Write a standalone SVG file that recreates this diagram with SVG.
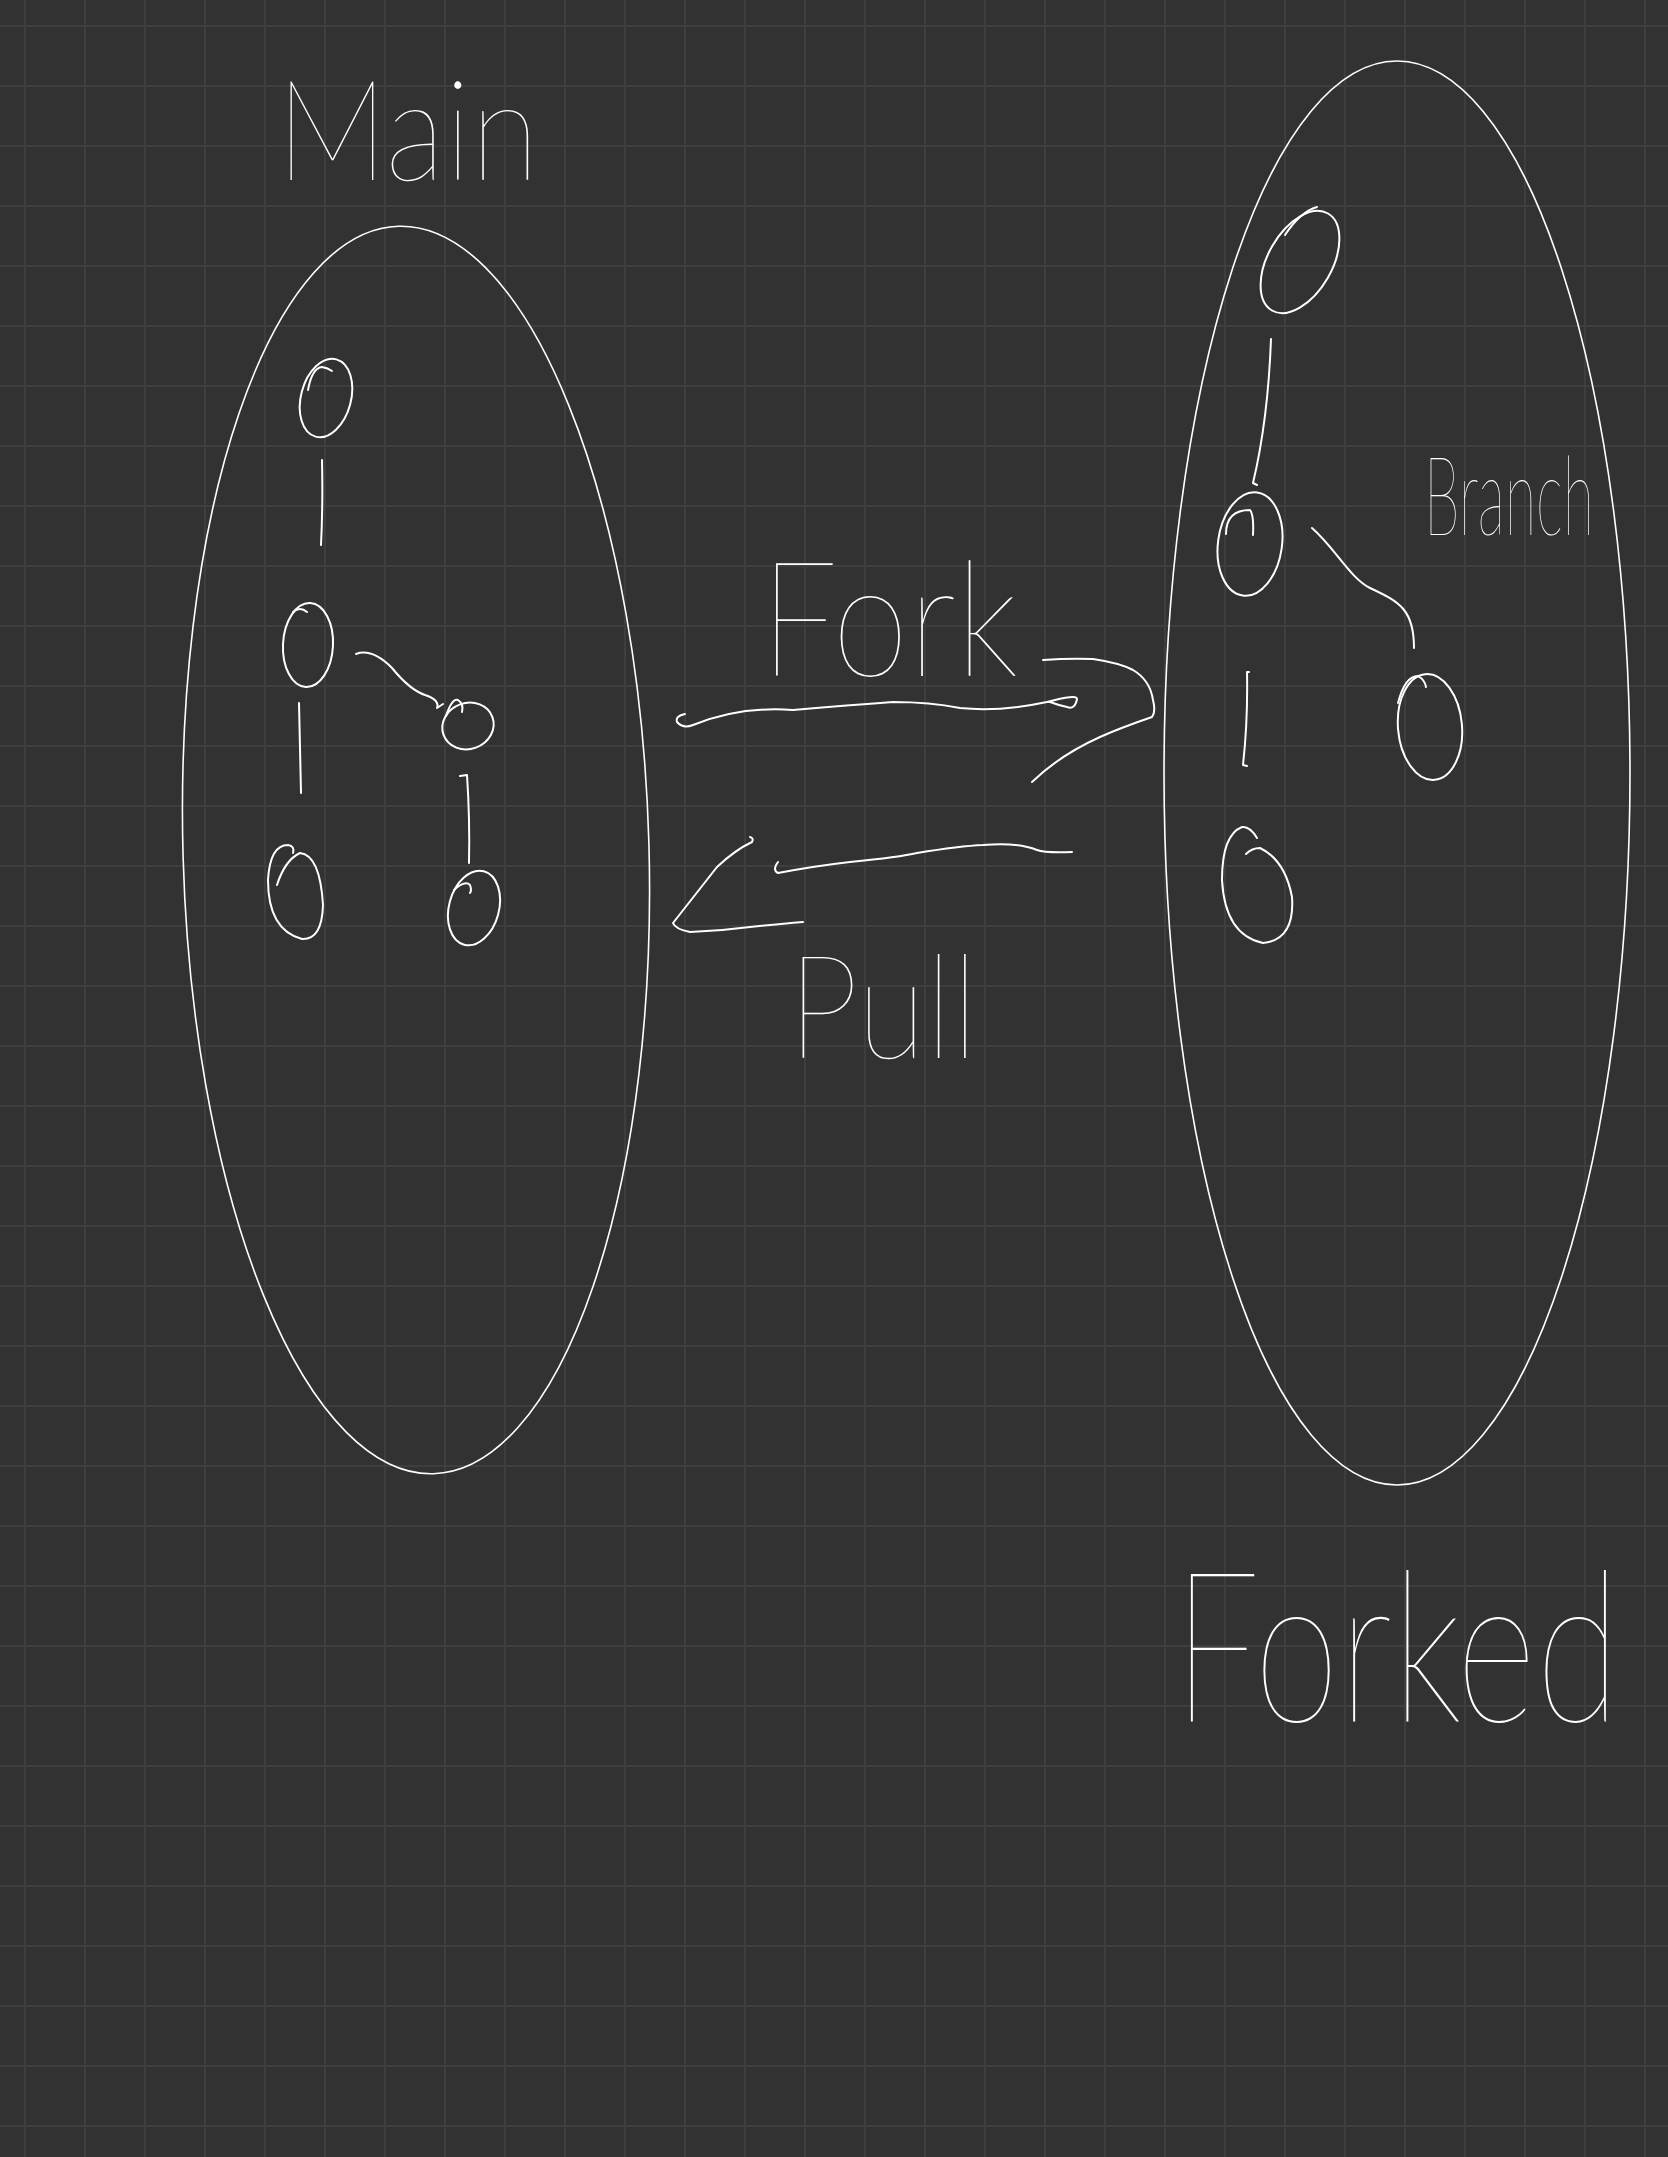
<svg xmlns="http://www.w3.org/2000/svg" width="1668" height="2157" viewBox="0 0 1668 2157">
<defs>
<pattern id="grid" x="0" y="0" width="60" height="60" patternUnits="userSpaceOnUse">
<rect width="60" height="60" fill="#323232"/>
<rect x="24" y="0" width="2" height="60" fill="#3e3e3e"/>
<rect x="0" y="25" width="60" height="2" fill="#3e3e3e"/>
</pattern>
</defs>
<style>
.s{fill:none;stroke:#ffffff;stroke-width:2;stroke-linecap:round;stroke-linejoin:round}
.big{fill:none;stroke:#ffffff;stroke-width:1.6}
.t{font-family:Lato,"Liberation Sans",sans-serif;font-weight:100;fill:#ffffff}
</style>
<rect width="1668" height="2157" fill="url(#grid)"/>

<g id="main-repo">
<ellipse class="big" cx="416" cy="850" rx="233" ry="624" transform="rotate(-1.6 416 850)"/>
</g>
<g id="forked-repo">
<ellipse class="big" cx="1397" cy="773" rx="233" ry="712"/>
</g>

<g id="main-c1"><ellipse class="s" cx="326" cy="398" rx="25" ry="40" transform="rotate(15 326 398)"/><path class="s" d="M308,390 Q312,368 322,367 Q328,368 332,371"/></g>
<g id="main-c2"><ellipse class="s" cx="308" cy="645" rx="25" ry="42" transform="rotate(3 308 645)"/><path class="s" d="M293,612 Q300,606 307,612"/></g>
<g id="main-c3"><path class="s" d="M277,885 Q285,860 300,853 Q320,855 323,905 Q322,940 302,939 Q268,930 268,880 Q270,845 288,845 Q295,846 293,853"/></g>
<g id="main-b1"><ellipse class="s" cx="468" cy="726" rx="23" ry="26" transform="rotate(70 468 726)"/><path class="s" d="M446,716 Q452,698 458,700 Q464,704 462,712"/></g>
<g id="main-b2"><ellipse class="s" cx="474" cy="908" rx="25" ry="38" transform="rotate(15 474 908)"/><path class="s" d="M454,890 Q465,880 470,885 Q472,890 470,893"/></g>

<g id="fork-c1"><ellipse class="s" cx="1300" cy="262" rx="32" ry="56" transform="rotate(30 1300 262)"/><path class="s" d="M1285,235 Q1300,212 1317,207"/></g>
<g id="fork-c2"><ellipse class="s" cx="1250" cy="544" rx="32" ry="52" transform="rotate(8 1250 544)"/><path class="s" d="M1226,534 Q1226,510 1250,510 Q1254,515 1253,535"/></g>
<g id="fork-c3"><path class="s" d="M1257,838 Q1250,826 1242,827 Q1222,835 1222,880 Q1225,935 1263,943 Q1295,940 1292,897 Q1285,860 1260,848 Q1252,848 1246,854"/></g>
<g id="fork-b1"><ellipse class="s" cx="1430" cy="727" rx="32" ry="53" transform="rotate(-5 1430 727)"/><path class="s" d="M1398,703 Q1405,676 1418,676 Q1425,680 1426,687"/></g>

<g id="connectors">
<path class="s" d="M322,460 Q323,505 321,545"/>
<path class="s" d="M299,703 Q300,750 301,793"/>
<path class="s" d="M356,654 Q372,648 392,668 Q410,690 425,695 Q440,700 437,708 L443,704"/>
<path class="s" d="M460,776 L467,775 Q470,820 469,863"/>
<path class="s" d="M1271,339 Q1268,420 1253,483 L1257,485"/>
<path class="s" d="M1249,672 L1247,672 Q1248,720 1243,765 L1247,766"/>
<path class="s" d="M1312,528 C1335,548 1350,578 1370,588 C1400,602 1414,610 1414,648"/>
<path class="s" d="M685,714 Q675,716 677,722 Q683,729 693,725 Q740,706 793,710 Q850,705 893,702 Q930,702 960,708 Q1000,712 1047,702 Q1077,694 1077,699 Q1075,710 1067,707 Q1058,705 1050,702"/>
<path class="s" d="M1043,660 Q1070,658 1093,659 Q1120,663 1133,670 Q1150,680 1153,700 Q1156,712 1152,717 Q1120,728 1100,737 Q1060,755 1032,782"/>
<path class="s" d="M778,862 Q772,870 778,873 Q815,866 850,862 Q900,857 917,853 Q960,846 983,845 Q1017,842 1037,850 Q1045,853 1072,852"/>
<path class="s" d="M750,837 Q754,838 752,842 Q735,850 717,867 Q695,895 673,923 Q675,929 690,932 Q720,931 750,927 Q780,924 803,922"/>
</g>

<g id="labels">
<text class="t" x="276" y="180" font-size="140" textLength="263" lengthAdjust="spacingAndGlyphs">Main</text>
<text class="t" x="760" y="676" font-size="160" textLength="258" lengthAdjust="spacingAndGlyphs">Fork</text>
<text class="t" x="788" y="1058" font-size="145" textLength="190" lengthAdjust="spacingAndGlyphs">Pull</text>
<text class="t" x="0" y="0" transform="translate(1424 535) scale(1 1.6)" font-size="69" textLength="170" lengthAdjust="spacingAndGlyphs">Branch</text>
<text class="t" x="0" y="0" transform="translate(1173 1722) scale(1 1.355)" font-size="155" textLength="447" lengthAdjust="spacingAndGlyphs">Forked</text>
</g>
</svg>
